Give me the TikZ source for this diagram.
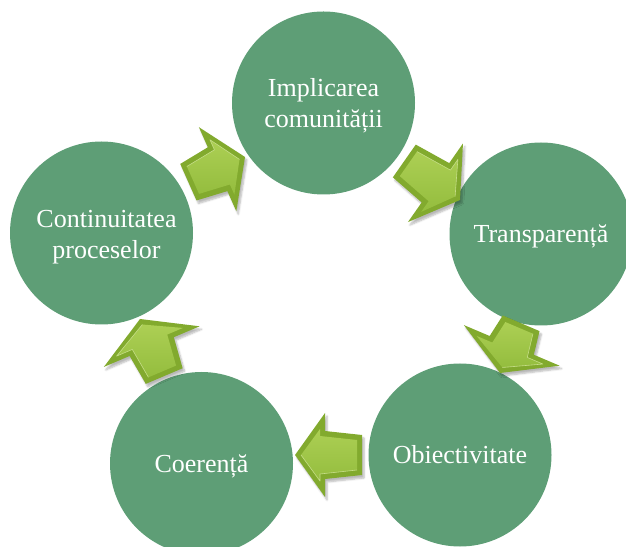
\documentclass[tikz,border=0pt]{standalone}
\usepackage{fontspec}
\setmainfont{Liberation Serif}
\usetikzlibrary{shadows.blur}
\definecolor{circfill}{RGB}{94,158,118}
\definecolor{arrdark}{RGB}{130,170,46}
\definecolor{arrlight}{RGB}{172,207,84}
\definecolor{arrmid}{RGB}{148,189,62}
\tikzset{
  bubble/.style={circle, fill=circfill, minimum size=183pt, inner sep=0pt,
    text=white, font=\fontsize{26}{31}\selectfont, align=center},
  oneline/.style={text height=17pt, text depth=0pt},
  arrouter/.style={fill=arrdark, blur shadow={shadow xshift=2pt, shadow yshift=-3pt,
    shadow opacity=28, shadow blur steps=6}},
  arrinner/.style={top color=arrlight, bottom color=arrmid},
  arrhi/.style={draw=arrlight!70!white, line width=0.6pt, line join=round},
}
% name, tip x, tip y, angle, length, head half width
\newcommand\blockarr[6]{%
  \begin{scope}[shift={(#2,#3)}, rotate=#4]
    \coordinate (#1) at (0,0);
    \path[arrouter] (-#5,-20) -- (-30,-24) -- (-30,-#6) -- (0,0) -- (-30,#6)
      -- (-30,24) -- (-#5,20) -- cycle;
    \path[arrinner] (-#5+5,-15) -- (-25,-19) -- (-25,-#6+16) -- (-6,0)
      -- (-25,#6-16) -- (-25,19) -- (-#5+5,15) -- cycle;
    \path[arrhi] (-#5+5,15) -- (-25,19) -- (-25,#6-16) -- (-6,0);
  \end{scope}}
\begin{document}
\begin{tikzpicture}[x=1pt,y=1pt]
  \useasboundingbox (0,0) rectangle (626,546);
  \clip (0,0) rectangle (626,546);
  \node[bubble] (c1) at (323.5,443) {};
  \node[text=white, font=\fontsize{26}{31}\selectfont, align=center, yshift=-3pt] (t1) at (c1.center) {Implicarea\\comunității};
  \node[bubble, oneline] (c2) at (541,312) {Transparență};
  \node[bubble, oneline] (c3) at (460,91) {Obiectivitate};
  \node[bubble, oneline] (c4) at (201.5,82.5) {Coerență};
  \node[bubble] (c5) at (101.5,313) {};
  \node[text=white, font=\fontsize{26}{31}\selectfont, align=center, yshift=-4pt] (t5) at ([xshift=5pt]c5.center) {Continuitatea\\proceselor};
  \blockarr{a1}{245}{389}{24}{62}{46}
  \blockarr{a2}{460}{346}{-35}{68}{48}
  \blockarr{a3}{500}{173}{-113}{54}{52}
  \blockarr{a4}{295}{91}{180}{67}{42}
  \blockarr{a5}{140}{227}{113}{62}{52}
\end{tikzpicture}
\end{document}
